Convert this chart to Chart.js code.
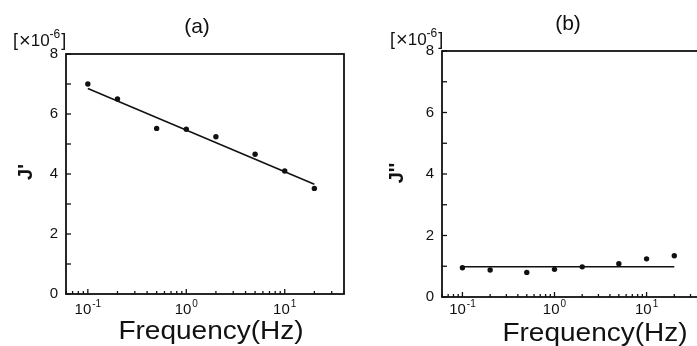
<!DOCTYPE html>
<html>
<head>
<meta charset="utf-8">
<script src="https://cdn.jsdelivr.net/npm/chart.js@4.4.1/dist/chart.umd.min.js"></script>
<style>
  html, body { margin: 0; padding: 0; background: #fff; overflow: hidden; }
  #wrap { position: relative; width: 697px; height: 346px; overflow: hidden; background: #fff; }
  canvas { position: absolute; top: 0; }
</style>
</head>
<body>
<div id="wrap">
  <canvas id="chart-a" width="350" height="346" style="left:0"></canvas>
  <canvas id="chart-b" width="362" height="346" style="left:350px"></canvas>
</div>
<script>
const FREQ = [0.1, 0.2, 0.5, 1, 2, 5, 10, 20];
const J_STORAGE = [7.0, 6.5, 5.52, 5.49, 5.24, 4.66, 4.1, 3.52];
const J_LOSS = [0.95, 0.88, 0.80, 0.90, 0.98, 1.08, 1.24, 1.34];
const FIT_FREQ = [0.1, 20];
const J_STORAGE_FIT = [6.85, 3.66];
const J_LOSS_FIT = [0.98, 0.98];
const Y_LABELS = [0, 2, 4, 6, 8];
const X_LABELS = [0.1, 1, 10];
const X_EXPONENTS = ['-1', '0', '1'];

const INK = '#111';
const FONT = '"Liberation Sans", Arial, Helvetica, sans-serif';

function line(ctx, x1, y1, x2, y2) {
  ctx.beginPath();
  ctx.moveTo(x1, y1);
  ctx.lineTo(x2, y2);
  ctx.stroke();
}

// draws frame, inward ticks, tick labels and titles
const decor = {
  id: 'decor',
  afterDraw(chart, args, o) {
    const { ctx, chartArea: a, scales: { x, y } } = chart;
    ctx.save();
    ctx.strokeStyle = INK;
    ctx.fillStyle = INK;

    ctx.lineWidth = 1.8;
    ctx.strokeRect(a.left, a.top, a.right - a.left, a.bottom - a.top);

    ctx.lineWidth = 1.3;
    for (let v = y.min; v <= y.max; v++) {
      const py = y.getPixelForValue(v);
      line(ctx, a.left, py, a.left + 5, py);
    }
    for (let d = -2; d <= 2; d++) {
      for (let k = 1; k <= 9; k++) {
        const v = k * Math.pow(10, d);
        if (v < x.min || v > x.max) continue;
        const px = x.getPixelForValue(v);
        line(ctx, px, a.bottom, px, a.bottom - (k === 1 ? 5 : 3));
      }
    }

    ctx.font = `15px ${FONT}`;
    ctx.textAlign = 'right';
    ctx.textBaseline = 'middle';
    Y_LABELS.forEach(v => ctx.fillText(String(v), a.left - 8, y.getPixelForValue(v)));

    ctx.textAlign = 'left';
    ctx.textBaseline = 'alphabetic';
    X_LABELS.forEach((v, i) => {
      ctx.font = `15px ${FONT}`;
      const wb = ctx.measureText('10').width;
      ctx.font = `10px ${FONT}`;
      const we = ctx.measureText(X_EXPONENTS[i]).width;
      const left = x.getPixelForValue(v) - (wb + we + 1) / 2;
      ctx.font = `15px ${FONT}`;
      ctx.fillText('10', left, 314);
      ctx.font = `10px ${FONT}`;
      ctx.fillText(X_EXPONENTS[i], left + wb + 1, 307);
    });

    // unit label [x10^-6]
    let ux = o.unitX;
    ctx.font = `18px ${FONT}`;
    ctx.fillText('[', ux, o.unitY);
    ux += ctx.measureText('[').width + 1;
    ctx.font = `20px ${FONT}`;
    ctx.fillText('\u00d7', ux, o.unitY + 1);
    ux += ctx.measureText('\u00d7').width;
    ctx.font = `17px ${FONT}`;
    ctx.fillText('10', ux, o.unitY);
    ux += ctx.measureText('10').width;
    ctx.font = `12px ${FONT}`;
    ctx.fillText('-6', ux, o.unitY - 8);
    ux += ctx.measureText('-6').width + 1;
    ctx.font = `18px ${FONT}`;
    ctx.fillText(']', ux, o.unitY);

    ctx.textAlign = 'center';
    ctx.font = `21px ${FONT}`;
    ctx.textBaseline = 'middle';
    ctx.fillText(o.title, o.titleX, o.titleY);

    ctx.save();
    ctx.translate(o.yTitleX, o.yTitleY);
    ctx.rotate(-Math.PI / 2);
    ctx.font = `bold 20px ${FONT}`;
    ctx.fillText(o.yTitle, 0, 0);
    ctx.restore();

    ctx.save();
    ctx.translate(o.xTitleX, o.xTitleY);
    ctx.scale(1.12, 1);
    ctx.font = `25px ${FONT}`;
    ctx.textBaseline = 'alphabetic';
    ctx.fillText('Frequency(Hz)', 0, 0);
    ctx.restore();

    ctx.restore();
  }
};

function makeChart(p) {
  return new Chart(document.getElementById(p.id), {
    type: 'scatter',
    data: {
      datasets: [
        {
          data: FREQ.map((f, i) => ({ x: f, y: p.values[i] })),
          pointRadius: 2.7,
          pointBackgroundColor: INK,
          pointBorderWidth: 0,
        },
        {
          data: FIT_FREQ.map((f, i) => ({ x: f, y: p.fit[i] })),
          showLine: true,
          borderColor: INK,
          borderWidth: 1.5,
          pointRadius: 0,
        },
      ],
    },
    options: {
      responsive: false,
      animation: false,
      devicePixelRatio: 1,
      layout: { padding: { left: 0, top: p.top, right: p.right, bottom: 0 } },
      scales: {
        x: {
          type: 'logarithmic',
          min: 0.06,
          max: 40,
          ticks: { display: false },
          grid: { display: false },
          border: { display: false },
          afterFit: s => { s.height = p.bottom; },
        },
        y: {
          min: 0,
          max: 8,
          ticks: { display: false },
          grid: { display: false },
          border: { display: false },
          afterFit: s => { s.width = p.left; },
        },
      },
      plugins: {
        legend: { display: false },
        tooltip: { enabled: false },
        decor: p.decor,
      },
    },
    plugins: [decor],
  });
}

makeChart({
  id: 'chart-a', values: J_STORAGE, fit: J_STORAGE_FIT,
  left: 66, right: 6, top: 54, bottom: 52,
  decor: { title: '(a)', titleX: 197, titleY: 27, unitX: 13, unitY: 46,
           yTitle: "J'", yTitleX: 26, yTitleY: 172, xTitleX: 211, xTitleY: 339 },
});
makeChart({
  id: 'chart-b', values: J_LOSS, fit: J_LOSS_FIT,
  left: 92, right: 10, top: 51, bottom: 49,
  decor: { title: '(b)', titleX: 218, titleY: 24, unitX: 40, unitY: 45,
           yTitle: "J''", yTitleX: 47, yTitleY: 173, xTitleX: 245, xTitleY: 341 },
});
</script>
</body>
</html>
